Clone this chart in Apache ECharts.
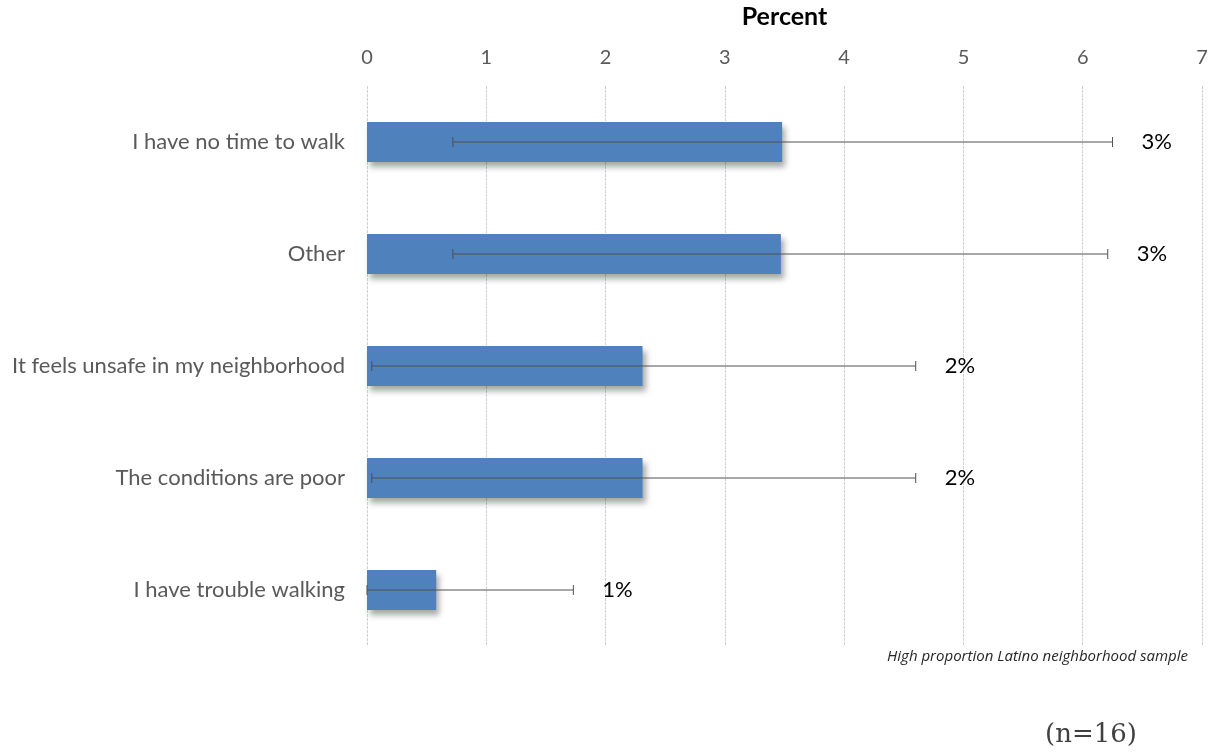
<!DOCTYPE html>
<html><head><meta charset="utf-8">
<script src="https://cdn.jsdelivr.net/npm/echarts@6/dist/echarts.min.js"></script>
<style>html,body{margin:0;padding:0;background:#fff}#c{width:1217px;height:752px}</style>
</head><body><div id="c"></div>
<script>
var categories = ["I have no time to walk", "Other", "It feels unsafe in my neighborhood", "The conditions are poor", "I have trouble walking"];
var values = [3.48, 3.47, 2.31, 2.31, 0.58];
var errLow = [0.72, 0.72, 0.04, 0.04, 0.0];
var errHigh = [6.25, 6.21, 4.60, 4.60, 1.73];
var valueLabels = ["3%", "3%", "2%", "2%", "1%"];
var xTicks = [0, 1, 2, 3, 4, 5, 6, 7];

var chart = echarts.init(document.getElementById('c'));
var errData = categories.map(function (c, i) { return [i, errLow[i], errHigh[i]]; });
chart.setOption({
  animation: false,
  grid: { left: 367, right: 15, top: 86, bottom: 106, outerBoundsMode: 'none', containLabel: false },
  xAxis: {
    type: 'value', position: 'top', min: xTicks[0], max: xTicks[xTicks.length - 1], interval: 1,
    name: 'Percent', nameLocation: 'middle', nameGap: 57,
    nameTextStyle: { fontFamily: 'Lato', fontWeight: 'bold', fontSize: 25, color: '#000' },
    axisLine: { show: false }, axisTick: { show: false },
    axisLabel: { fontFamily: 'Lato', fontSize: 20, color: '#595959', margin: 18 },
    splitLine: { show: true, lineStyle: { color: '#d0d0d0', width: 1, type: [3, 1] } }
  },
  yAxis: {
    type: 'category', data: categories, inverse: true,
    axisLine: { show: false }, axisTick: { show: false },
    axisLabel: { fontFamily: 'Lato', fontSize: 22, color: '#595959', margin: 22 }
  },
  series: [
    {
      type: 'bar', data: values, barWidth: 40,
      itemStyle: { color: '#4F81BD', shadowBlur: 6, shadowOffsetX: 3, shadowOffsetY: 5, shadowColor: 'rgba(0,0,0,0.35)' }
    },
    {
      type: 'custom', data: errData, encode: { x: [1, 2], y: 0 }, z: 5,
      renderItem: function (params, api) {
        var idx = api.value(0);
        var p1 = api.coord([api.value(1), idx]);
        var p2 = api.coord([api.value(2), idx]);
        var h = 5;
        var st = { stroke: '#505050', lineWidth: 1 };
        return {
          type: 'group',
          children: [
            { type: 'line', shape: { x1: p1[0], y1: p1[1], x2: p2[0], y2: p2[1] }, style: st },
            { type: 'line', shape: { x1: p1[0], y1: p1[1] - h, x2: p1[0], y2: p1[1] + h }, style: st },
            { type: 'line', shape: { x1: p2[0], y1: p2[1] - h, x2: p2[0], y2: p2[1] + h }, style: st },
            { type: 'text', x: p2[0] + 29, y: p2[1], style: { text: valueLabels[idx], fontFamily: 'Lato', fontSize: 22, fill: '#000', verticalAlign: 'middle' } }
          ]
        };
      }
    }
  ],
  graphic: [
    { type: 'text', right: 29, top: 649, style: { text: 'High proportion Latino neighborhood sample', fontFamily: 'Open Sans', fontStyle: 'italic', fontSize: 15, fill: '#262626' } },
    { type: 'text', left: 1045, top: 722, style: { text: '(n=16)', fontFamily: 'DejaVu Serif', fontSize: 26, fill: '#404040' } }
  ]
});
</script></body></html>
